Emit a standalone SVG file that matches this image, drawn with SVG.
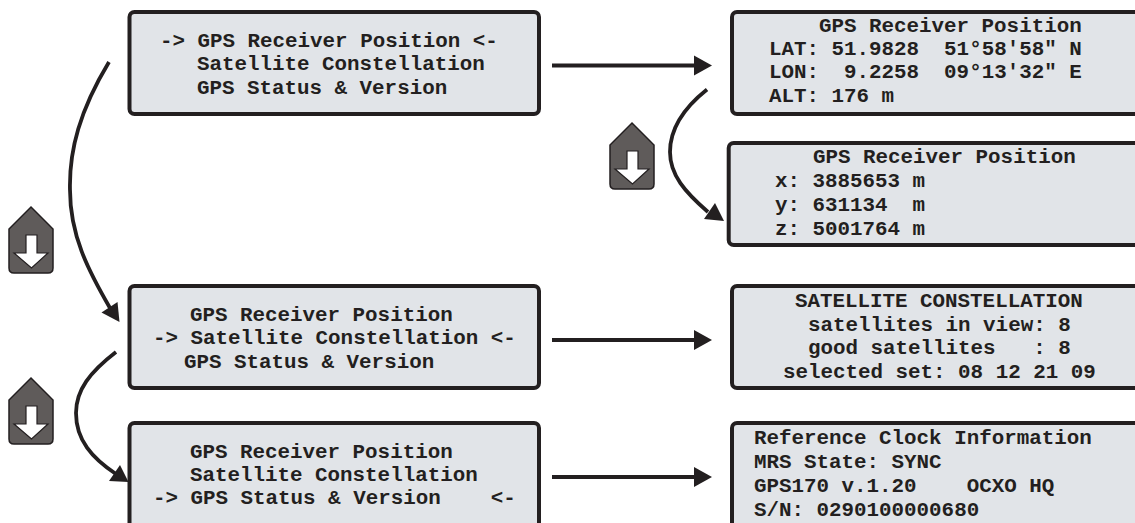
<svg xmlns="http://www.w3.org/2000/svg" width="1135" height="523" viewBox="0 0 1135 523">
<style>
.b{fill:#e1e4e8;stroke:#231f20;stroke-width:4}
text{font-family:"Liberation Mono","Courier New",monospace;font-weight:bold;font-size:20.85px;fill:#231f20;white-space:pre}
.c{fill:none;stroke:#231f20;stroke-width:3.8}
.h{fill:#231f20}
.k{fill:#5f5b5a;stroke:#231f20;stroke-width:1.5}
.w{fill:#fff;stroke:#231f20;stroke-width:1.2}
</style>
<defs>
<g id="key"><path class="k" d="M22 0L44 22V61Q44 66 39 66H5Q0 66 0 61V22Z"/><path class="w" d="M17 28H28V46H39L22.500 61 5 46H17Z"/></g>
</defs>
<g id="connectors">
<path class="c" d="M109 62C80 110 69 150 70 190C70 235 88 270 110 308"/><path class="h" d="M119.500 322L101.500 312.500 117.500 302Z"/>
<path class="c" d="M116 352C90 372 76 390 76 413C76 440 92 458 116 474"/><path class="h" d="M128.500 482L109 481 120 465Z"/>
<path class="c" d="M707 89.500C685 107 670 128 670 152C670 175 685 192 708 212"/><path class="h" d="M724 221L704 219 715 203Z"/>
<path class="c" d="M552 65.500H696"/><path class="h" d="M694 55.500L712 65.500 694 75.500Z"/>
<path class="c" d="M552 340H696"/><path class="h" d="M694 330L712 340 694 350Z"/>
<path class="c" d="M552 477H696"/><path class="h" d="M694 467L712 477 694 487Z"/>
</g>
<g id="key1"><use href="#key" x="9" y="207"/></g>
<g id="key2"><use href="#key" x="9" y="378"/></g>
<g id="key3"><use href="#key" x="610" y="123"/></g>
<g id="n1"><rect class="b" x="129.500" y="12" width="409.500" height="102" rx="5"/>
<text x="160" y="47">-&gt; GPS Receiver Position &lt;-</text><text x="197" y="70">Satellite Constellation</text><text x="197" y="94">GPS Status &amp; Version</text></g>
<g id="n2"><rect class="b" x="129.500" y="286" width="409.500" height="102" rx="5"/>
<text x="190" y="321">GPS Receiver Position</text><text x="153" y="344">-&gt; Satellite Constellation &lt;-</text><text x="184" y="368">GPS Status &amp; Version</text></g>
<g id="n3"><rect class="b" x="129.500" y="423" width="409.500" height="110" rx="5"/>
<text x="190" y="458">GPS Receiver Position</text><text x="190" y="481">Satellite Constellation</text><text x="153" y="504">-&gt; GPS Status &amp; Version    &lt;-</text></g>
<g id="n4"><rect class="b" x="732" y="12" width="420" height="102" rx="5"/>
<text x="819" y="32">GPS Receiver Position</text><text x="769" y="55">LAT: 51.9828  51°58′58″ N</text><text x="769" y="78">LON:  9.2258  09°13′32″ E</text><text x="769" y="102">ALT: 176 m</text></g>
<g id="n5"><rect class="b" x="728.700" y="143" width="420" height="102" rx="5"/>
<text x="813" y="163">GPS Receiver Position</text><text x="775" y="187">x: 3885653 m</text><text x="775" y="211">y: 631134  m</text><text x="775" y="235">z: 5001764 m</text></g>
<g id="n6"><rect class="b" x="732" y="286" width="420" height="102" rx="5"/>
<text x="795" y="307">SATELLITE CONSTELLATION</text><text x="808" y="331">satellites in view: 8</text><text x="808" y="354">good satellites   : 8</text><text x="783" y="378">selected set: 08 12 21 09</text></g>
<g id="n7"><rect class="b" x="732" y="423" width="420" height="110" rx="5"/>
<text x="754" y="444">Reference Clock Information</text><text x="754" y="468">MRS State: SYNC</text><text x="754" y="492">GPS170 v.1.20    OCXO HQ</text><text x="754" y="516">S/N: 0290100000680</text></g>
</svg>
